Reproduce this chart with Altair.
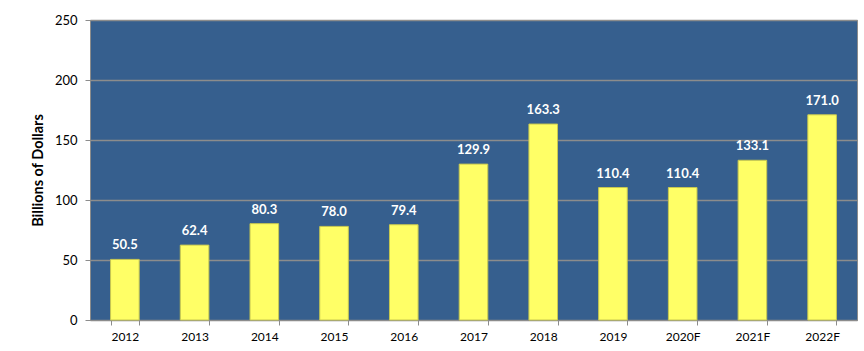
import altair as alt
import pandas as pd

years = ["2012", "2013", "2014", "2015", "2016", "2017", "2018", "2019", "2020F", "2021F", "2022F"]
values = [50.5, 62.4, 80.3, 78.0, 79.4, 129.9, 163.3, 110.4, 110.4, 133.1, 171.0]
labels = ["50.5", "62.4", "80.3", "78.0", "79.4", "129.9", "163.3", "110.4", "110.4", "133.1", "171.0"]
y_ticks = [0, 50, 100, 150, 200, 250]

df = pd.DataFrame({"year": years, "value": values, "label": labels})

FONT = "Lato"

x = alt.X("year:N", sort=years, title=None,
          scale=alt.Scale(paddingInner=0.59, paddingOuter=0.295),
          axis=alt.Axis(labelAngle=0, labelFont=FONT, labelFontSize=12, labelColor="#000000",
                        labelFontWeight="normal", tickBand="extent", tickSize=5, tickColor="#8c8c8c",
                        domainColor="#8c8c8c", labelPadding=6, grid=False))
y = alt.Y("value:Q", title="Billions of Dollars",
          scale=alt.Scale(domain=[0, 250], nice=False),
          axis=alt.Axis(values=y_ticks, labelFont=FONT, labelFontSize=13, labelColor="#000000",
                        tickSize=5, tickColor="#8c8c8c", domainColor="#8c8c8c", labelPadding=8,
                        grid=True, gridColor="#8c8c8c", gridWidth=1.3,
                        titleFont=FONT, titleFontSize=14.5, titleFontWeight="bold",
                        titleColor="#000000", titlePadding=9))

bars = alt.Chart(df).mark_bar(color="#FFFF66", stroke="#C8C850", strokeWidth=1).encode(x=x, y=y)
text = alt.Chart(df).mark_text(font=FONT, fontSize=13, fontWeight="bold", color="#FFFFFF",
                               baseline="bottom", dy=-7).encode(
    x=alt.X("year:N", sort=years), y=alt.Y("value:Q"), text="label:N")

chart = alt.layer(bars, text).properties(
    width=767, height=300,
    background="#FFFFFF",
    padding={"left": 90, "top": 20, "right": 7, "bottom": 31},
    autosize=alt.AutoSizeParams(type="none"),
).configure_view(fill="#365F8E", stroke="#8c8c8c", strokeWidth=1)

chart.save("out.html", embed_options={"renderer": "svg", "actions": False})
